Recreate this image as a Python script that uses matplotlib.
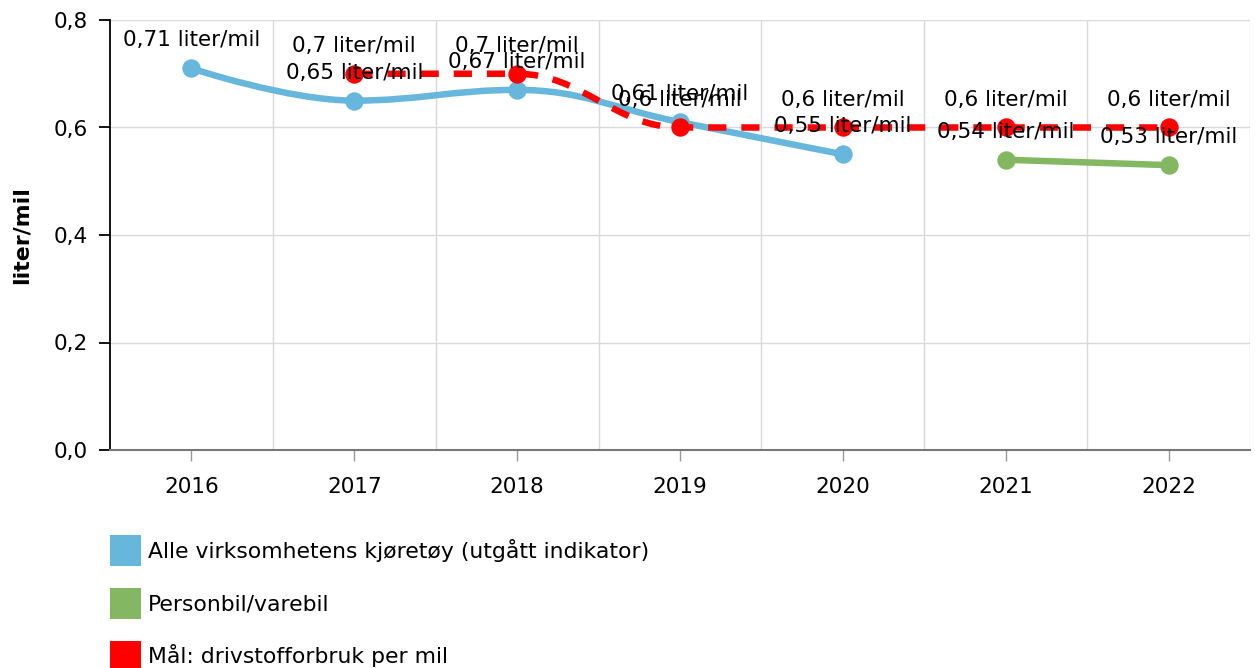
import matplotlib
matplotlib.use("Agg")
import matplotlib.pyplot as plt
from matplotlib.path import Path
from matplotlib.patches import PathPatch, Patch
import numpy as np

years = ["2016", "2017", "2018", "2019", "2020", "2021", "2022"]
alle_x = [0, 1, 2, 3, 4]
alle_vals = [0.71, 0.65, 0.67, 0.61, 0.55]
person_x = [5, 6]
person_vals = [0.54, 0.53]
maal_x = [1, 2, 3, 4, 5, 6]
maal_vals = [0.70, 0.70, 0.60, 0.60, 0.60, 0.60]
yticks = [0.0, 0.2, 0.4, 0.6, 0.8]
legend_labels = ["Alle virksomhetens kjøretøy (utgått indikator)",
                 "Personbil/varebil",
                 "Mål: drivstofforbruk per mil"]

BLUE = "#67B7DC"
GREEN = "#84B761"
RED = "#FF0000"

plt.rcParams['font.family'] = ['DejaVu Sans']
PX = 72 / 100.0
FS = 21.5 * PX
LFS = 21.9 * PX


def spline_path(xs, ys, smoothing=1.5):
    """Highcharts-like spline path through the points (style only)."""
    n = len(xs)
    denom = smoothing + 1
    lefts, rights = [], []
    for i in range(n):
        x, y = xs[i], ys[i]
        if 0 < i < n - 1:
            lx, ly = xs[i - 1], ys[i - 1]
            nx, ny = xs[i + 1], ys[i + 1]
            lcx = (smoothing * x + lx) / denom
            lcy = (smoothing * y + ly) / denom
            rcx = (smoothing * x + nx) / denom
            rcy = (smoothing * y + ny) / denom
            if rcx != lcx:
                corr = ((rcy - lcy) * (rcx - x)) / (rcx - lcx) + y - rcy
                lcy += corr
                rcy += corr
            if lcy > ly and lcy > y:
                lcy = max(ly, y)
                rcy = 2 * y - lcy
            elif lcy < ly and lcy < y:
                lcy = min(ly, y)
                rcy = 2 * y - lcy
            if rcy > ny and rcy > y:
                rcy = max(ny, y)
                lcy = 2 * y - rcy
            elif rcy < ny and rcy < y:
                rcy = min(ny, y)
                lcy = 2 * y - rcy
            lefts.append((lcx, lcy))
            rights.append((rcx, rcy))
        else:
            lefts.append((x, y))
            rights.append((x, y))
    verts = [(xs[0], ys[0])]
    codes = [Path.MOVETO]
    for i in range(1, n):
        verts += [rights[i - 1], lefts[i], (xs[i], ys[i])]
        codes += [Path.CURVE4] * 3
    return Path(verts, codes)


fig = plt.figure(figsize=(12.55, 6.68), dpi=100)
ax = fig.add_axes([110 / 1255, (668 - 450) / 668, (1250 - 110) / 1255, 430 / 668])

ax.set_xlim(-0.5, 6.5)
ax.set_ylim(0, 0.8)

ax.set_yticks(yticks)
ax.set_yticklabels([f"{v:.1f}".replace(".", ",") for v in yticks])
ax.set_xticks(range(len(years)))
ax.set_xticklabels(years)
ax.grid(False)
for yv in yticks[1:]:
    ax.axhline(yv, color="#d9d9d9", lw=1.0, zorder=0)
for xv in np.arange(0.5, 6.6, 1.0):
    ax.axvline(xv, color="#d9d9d9", lw=1.0, zorder=0)

for s in ["top", "right"]:
    ax.spines[s].set_visible(False)
ax.spines["left"].set_color("black")
ax.spines["left"].set_linewidth(1.3)
ax.spines["bottom"].set_color("#777777")
ax.spines["bottom"].set_linewidth(1.5)

ax.tick_params(axis="y", which="major", length=8, width=1.3, color="black",
               labelsize=FS, pad=8, direction="out")
ax.tick_params(axis="x", which="major", length=8, width=1, color="#999999",
               labelsize=FS, pad=11.5, direction="out")

fig.text(22 / 1255, 1 - 235 / 668, "liter/mil", rotation=90, ha="center", va="center",
         fontsize=22 * PX, fontweight="bold")

lw = 6.5 * PX
ms = 17 * PX

# blue series
ax.add_patch(PathPatch(spline_path(alle_x, alle_vals), fill=False, edgecolor=BLUE,
                       lw=lw, capstyle="round", joinstyle="round", zorder=3))
ax.plot(alle_x, alle_vals, "o", color=BLUE, ms=ms, zorder=4)

# green series
ax.add_patch(PathPatch(spline_path(person_x, person_vals), fill=False, edgecolor=GREEN,
                       lw=lw, capstyle="round", zorder=3))
ax.plot(person_x, person_vals, "o", color=GREEN, ms=ms, zorder=4)

# red series
ax.add_patch(PathPatch(spline_path(maal_x, maal_vals), fill=False, edgecolor=RED,
                       lw=lw, linestyle=(0, (2.8, 2.3)), capstyle="butt", zorder=5))
ax.plot(maal_x, maal_vals, "o", color=RED, ms=ms, zorder=6)


def fmt(v):
    s = f"{v:.2f}".rstrip("0").rstrip(".")
    return s.replace(".", ",") + " liter/mil"


for xs, vs in [(alle_x, alle_vals), (person_x, person_vals), (maal_x, maal_vals)]:
    for x, v in zip(xs, vs):
        ax.annotate(fmt(v), (x, v), xytext=(0, 28 * PX), textcoords="offset points",
                    ha="center", va="center", fontsize=FS, color="black",
                    zorder=10, annotation_clip=False)

handles = [Patch(facecolor=c, edgecolor="none") for c in [BLUE, GREEN, RED]]
fig.legend(handles, legend_labels, loc="upper left",
           bbox_to_anchor=(110 / 1255, 1 - 535 / 668), frameon=False,
           fontsize=LFS, handlelength=1.41, handleheight=1.80,
           handletextpad=0.32, labelspacing=1.0, borderaxespad=0, borderpad=0)

fig.savefig("out.png", dpi=100)
